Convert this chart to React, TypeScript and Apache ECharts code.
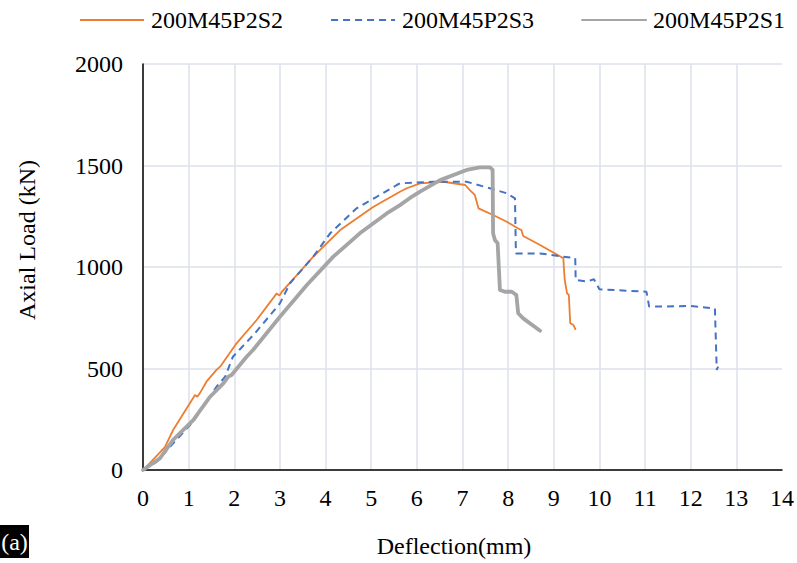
import React, { useEffect, useRef } from "react";
import * as echarts from "echarts";

const FONT = "Liberation Serif, Times New Roman, serif";

const seriesNames = ["200M45P2S2", "200M45P2S3", "200M45P2S1"];
const seriesColors = ["#ED7D31", "#4472C4", "#A5A5A5"];

// 200M45P2S2 (orange)
const s2X = [0, 0.15, 0.48, 0.66, 1.14, 1.19, 1.25, 1.39, 1.61, 1.69, 2.05, 2.49, 2.93, 2.99, 3.05, 3.44, 3.73, 4.32, 5.05, 5.63, 5.78, 6.07, 6.58, 7.06, 7.16, 7.27, 7.35, 7.67, 7.97, 8.22, 8.29, 8.33, 8.7, 9.21, 9.22, 9.24, 9.29, 9.33, 9.36, 9.43, 9.48];
const s2Y = [0, 34, 113, 197, 369, 361, 380, 435, 493, 509, 624, 739, 870, 859, 880, 977, 1051, 1182, 1297, 1371, 1388, 1412, 1420, 1404, 1379, 1355, 1289, 1256, 1223, 1190, 1182, 1153, 1108, 1043, 1000, 936, 870, 862, 723, 714, 690];

// 200M45P2S3 (blue dashed)
const s3X = [0, 0.3, 0.66, 1.1, 1.61, 1.8, 1.97, 2.45, 2.85, 3.0, 3.22, 3.73, 4.1, 4.68, 5.12, 5.56, 5.63, 6.36, 7.09, 7.6, 7.97, 8.15, 8.17, 8.26, 8.7, 9.21, 9.47, 9.48, 9.72, 9.88, 10.0, 11.03, 11.09, 11.25, 11.98, 12.53, 12.57, 12.6];
const s3Y = [0, 40, 131, 238, 410, 460, 558, 673, 780, 821, 920, 1051, 1166, 1289, 1346, 1404, 1412, 1420, 1420, 1388, 1363, 1338, 1067, 1067, 1067, 1051, 1043, 936, 928, 940, 890, 878, 805, 805, 808, 796, 493, 509];

// 200M45P2S1 (grey, thick)
const s1X = [0, 0.37, 0.66, 1.1, 1.47, 1.76, 1.87, 1.94, 2.27, 2.41, 3.0, 3.59, 4.17, 4.75, 5.34, 5.63, 5.85, 6.07, 6.51, 7.09, 7.38, 7.6, 7.66, 7.67, 7.71, 7.77, 7.82, 7.93, 8.08, 8.18, 8.22, 8.33, 8.7];
const s1Y = [0, 57, 148, 246, 361, 427, 460, 468, 558, 591, 755, 911, 1051, 1166, 1264, 1305, 1340, 1371, 1428, 1478, 1491, 1491, 1478, 1166, 1133, 1117, 887, 878, 878, 862, 772, 747, 686];

const xTicks = { min: 0, max: 14, interval: 1 };
const yTicks = { min: 0, max: 2000, interval: 500 };

const zip = (xs: number[], ys: number[]) => xs.map((x, i) => [x, ys[i]]);

export default function App() {
  const ref = useRef<HTMLDivElement>(null);
  useEffect(() => {
    if (!ref.current) return;
    const chart = echarts.init(ref.current, undefined, { renderer: "svg" });
    const option = {
      animation: false,
      backgroundColor: "#ffffff",
      textStyle: { fontFamily: FONT },
      grid: { left: 143, right: 14, top: 64, bottom: 93, containLabel: false },
      legend: {
        left: 74,
        top: 3,
        itemWidth: 64,
        itemHeight: 14,
        itemGap: 47,
        data: seriesNames,
        itemStyle: { opacity: 0 },
        textStyle: { fontFamily: FONT, fontSize: 24, color: "#000", padding: [0, 0, 0, 2] },
      },
      xAxis: {
        type: "value",
        min: xTicks.min,
        max: xTicks.max,
        interval: xTicks.interval,
        axisLine: { show: true, onZero: false, lineStyle: { color: "#000", width: 1.5 } },
        axisTick: { show: false },
        axisLabel: { fontFamily: FONT, fontSize: 24, color: "#000", margin: 16, formatter: (v: number) => String(v) },
        splitLine: { show: true, showMaxLine: false, lineStyle: { color: "#dde2ea", width: 1.5 } },
      },
      yAxis: {
        type: "value",
        min: yTicks.min,
        max: yTicks.max,
        interval: yTicks.interval,
        axisLine: { show: true, onZero: false, lineStyle: { color: "#000", width: 1.5 } },
        axisTick: { show: false },
        axisLabel: { fontFamily: FONT, fontSize: 24, color: "#000", margin: 20, formatter: (v: number) => String(v) },
        splitLine: { show: true, lineStyle: { color: "#dde2ea", width: 1.5 } },
      },
      graphic: [
        {
          type: "text",
          x: 454,
          y: 546,
          style: { text: "Deflection(mm)", font: `24px ${FONT}`, fill: "#000", align: "center", verticalAlign: "middle" },
        },
        {
          type: "text",
          x: 27,
          y: 240,
          rotation: Math.PI / 2,
          style: { text: "Axial Load (kN)", font: `24px ${FONT}`, fill: "#000", align: "center", verticalAlign: "middle" },
        },
        { type: "rect", shape: { x: 0, y: 525, width: 29, height: 33 }, style: { fill: "#000" } },
        {
          type: "text",
          x: 14.5,
          y: 542,
          style: { text: "(a)", font: `24px ${FONT}`, fill: "#fff", align: "center", verticalAlign: "middle" },
        },
      ],
      series: [
        {
          name: seriesNames[0],
          type: "line",
          symbol: "none",
          data: zip(s2X, s2Y),
          lineStyle: { color: seriesColors[0], width: 1.8 },
          itemStyle: { color: seriesColors[0] },
        },
        {
          name: seriesNames[1],
          type: "line",
          symbol: "none",
          data: zip(s3X, s3Y),
          lineStyle: { color: seriesColors[1], width: 2, type: [7, 5] },
          itemStyle: { color: seriesColors[1] },
        },
        {
          name: seriesNames[2],
          type: "line",
          symbol: "none",
          data: zip(s1X, s1Y),
          lineStyle: { color: seriesColors[2], width: 3.8, cap: "round", join: "round" },
          itemStyle: { color: seriesColors[2] },
        },
      ],
    };
    chart.setOption(option as any);
    return () => chart.dispose();
  }, []);
  return (
    <div
      ref={ref}
      style={{ position: "fixed", left: 0, top: 0, width: 797, height: 563, background: "#fff" }}
    />
  );
}
